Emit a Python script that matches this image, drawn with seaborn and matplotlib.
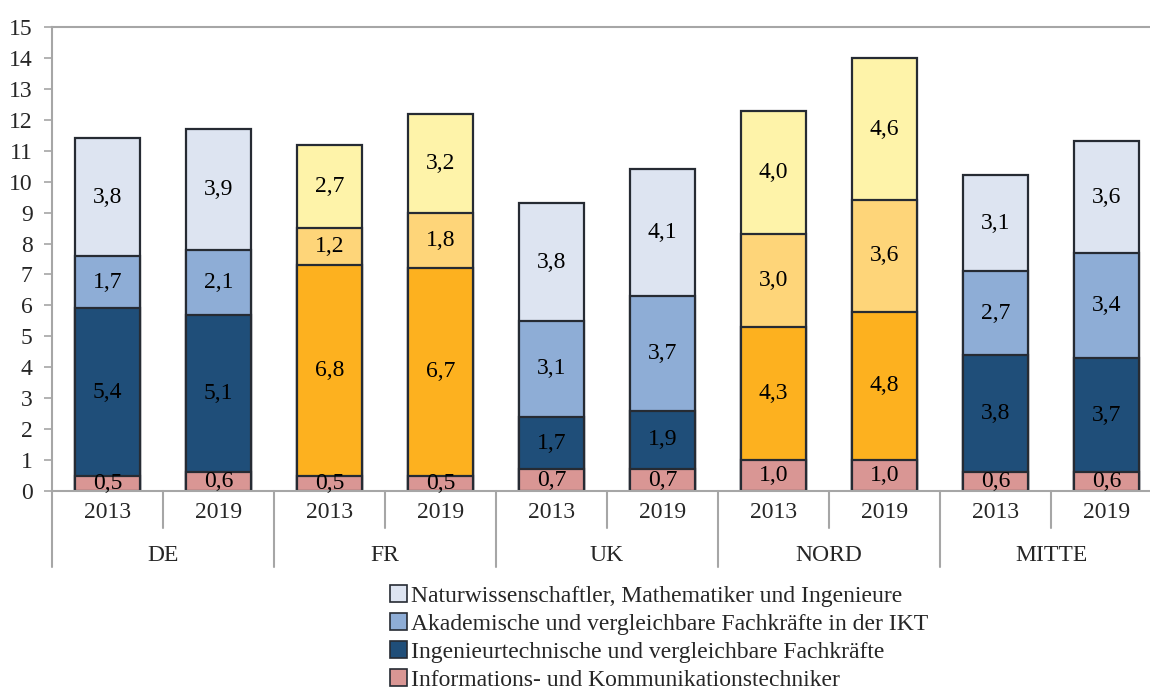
import pandas as pd
import numpy as np
import matplotlib.pyplot as plt
import seaborn as sns
from matplotlib.patches import Patch
from matplotlib.transforms import blended_transform_factory

# Data
groups = ['DE', 'FR', 'UK', 'NORD', 'MITTE']
years = ['2013', '2019']
# per bar: DE13, DE19, FR13, FR19, UK13, UK19, NORD13, NORD19, MITTE13, MITTE19
ikt_techniker = [0.5, 0.6, 0.5, 0.5, 0.7, 0.7, 1.0, 1.0, 0.6, 0.6]
ing_techniker = [5.4, 5.1, 6.8, 6.7, 1.7, 1.9, 4.3, 4.8, 3.8, 3.7]
akademiker_ikt = [1.7, 2.1, 1.2, 1.8, 3.1, 3.7, 3.0, 3.6, 2.7, 3.4]
naturwiss = [3.8, 3.9, 2.7, 3.2, 3.8, 4.1, 4.0, 4.6, 3.1, 3.6]

series_names = ['Informations- und Kommunikationstechniker',
                'Ingenieurtechnische und vergleichbare Fachkräfte',
                'Akademische und vergleichbare Fachkräfte in der IKT',
                'Naturwissenschaftler, Mathematiker und Ingenieure']
series = [ikt_techniker, ing_techniker, akademiker_ikt, naturwiss]

# colours: blue scheme for DE/UK/MITTE, orange scheme for FR/NORD
blue_cols = ['#d99694', '#1f4e79', '#8eadd6', '#dde4f1']
orange_cols = ['#d99694', '#fdb11f', '#fed579', '#fef3a9']
orange_groups = ['FR', 'NORD']

slots = [f'{g} {y}' for g in groups for y in years]
slot_group = [g for g in groups for y in years]

sns.set_style('white')
plt.rcParams['font.family'] = ['Liberation Serif', 'DejaVu Serif']
fs = 17

fig = plt.figure(figsize=(11.5, 6.89), dpi=100)
ax = fig.add_axes([52 / 1150, 1 - 491 / 689, 1110 / 1150, 464 / 689])

cum = np.cumsum(np.array(series), axis=0)

# draw cumulative bars from top layer down so each lower layer overlaps
for k in range(len(series) - 1, -1, -1):
    pal = {}
    for s, g in zip(slots, slot_group):
        pal[s] = orange_cols[k] if g in orange_groups else blue_cols[k]
    df = pd.DataFrame({'slot': slots, 'value': cum[k]})
    sns.barplot(data=df, x='slot', y='value', hue='slot', palette=pal, order=slots,
                hue_order=slots, dodge=False, legend=False, width=0.59,
                edgecolor='#262b33', linewidth=1.6, saturation=1, ax=ax)

# segment labels
for k in range(len(series)):
    for i in range(len(slots)):
        base = cum[k][i] - series[k][i]
        ax.text(i, base + series[k][i] / 2, f'{series[k][i]:.1f}'.replace('.', ','),
                ha='center', va='center', fontsize=fs, color='black')

ax.set_xlim(-0.5, len(slots) - 0.5)
ax.set_ylim(0, 15)
ax.set_yticks(range(0, 16))
ax.set_xticks([])
ax.set_xlabel('')
ax.set_ylabel('')
ax.tick_params(axis='y', labelsize=fs, length=6, width=1.2, color='#a6a6a6', left=True, pad=8)

for side in ['left', 'top', 'bottom']:
    ax.spines[side].set_color('#a6a6a6')
    ax.spines[side].set_linewidth(1.5)
ax.spines['right'].set_visible(False)

# two-level category axis
tr = blended_transform_factory(ax.transData, ax.transAxes)
for i, s in enumerate(slots):
    ax.text(i, -0.047, years[i % 2], transform=tr, ha='center', va='center', fontsize=fs)
for j, g in enumerate(groups):
    ax.text(2 * j + 0.5, -0.138, g, transform=tr, ha='center', va='center', fontsize=fs)
    ax.plot([2 * j - 0.5, 2 * j - 0.5], [0, -0.164], transform=tr, color='#a6a6a6',
            lw=1.5, clip_on=False)
    ax.plot([2 * j + 0.5, 2 * j + 0.5], [0, -0.08], transform=tr, color='#a6a6a6',
            lw=1.5, clip_on=False)

# legend (blue scheme only, top layer first)
handles = [Patch(facecolor=blue_cols[k], edgecolor='#262b33', linewidth=1.2, label=series_names[k])
           for k in range(len(series) - 1, -1, -1)]
fig.legend(handles=handles, loc='upper left', bbox_to_anchor=(390 / 1150, 1 - 585 / 689),
           frameon=False, fontsize=fs, handlelength=0.7, handleheight=0.7,
           handletextpad=0.2, labelspacing=0.28, borderaxespad=0, borderpad=0)

fig.savefig('out.png', dpi=100)
